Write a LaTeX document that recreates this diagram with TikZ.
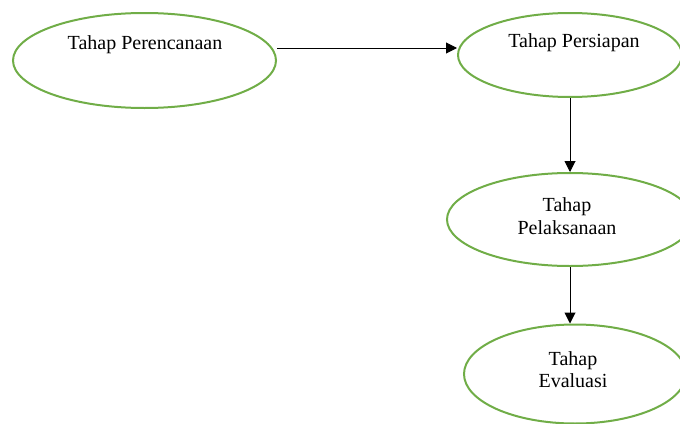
\documentclass[tikz,border=0pt]{standalone}
\usepackage{fontspec}
\setmainfont{Liberation Serif}
\usetikzlibrary{shapes.geometric,arrows.meta}
\definecolor{stepgreen}{RGB}{112,173,71}
\begin{document}
\begin{tikzpicture}[x=1pt,y=-1pt,
  oval/.style={ellipse,draw=stepgreen,line width=2pt,inner sep=0pt},
  lbl/.style={font=\fontsize{20}{22.5}\selectfont,align=center,inner sep=0pt},
  arr/.style={draw=black,line width=1pt,-{Triangle[length=11pt,width=11pt]}}]
\useasboundingbox (0,0) rectangle (680,423);
\node[oval,minimum width=263pt,minimum height=95pt] (e1) at (144.5,60.5) {};
\node[oval,minimum width=224pt,minimum height=84pt] (e2) at (570,55) {};
\node[oval,minimum width=246pt,minimum height=93pt] (e3) at (570,219.5) {};
\node[oval,minimum width=222pt,minimum height=99pt] (e4) at (575,374) {};
\node[lbl] (t1) at (145,45) {Tahap Perencanaan};
\node[lbl] (t2) at (574,43) {Tahap Persiapan};
\node[lbl] (t3) at (567,216) {Tahap\\Pelaksanaan};
\node[lbl] (t4) at (573,369.5) {Tahap\\Evaluasi};
\draw[arr] ([yshift=12.5pt]e1.east) -- ([yshift=7pt]e2.west);
\draw[arr] (e2.south) -- (e3.north);
\draw[arr] (e3.south) -- (e3.south |- e4.north);
\end{tikzpicture}
\end{document}
